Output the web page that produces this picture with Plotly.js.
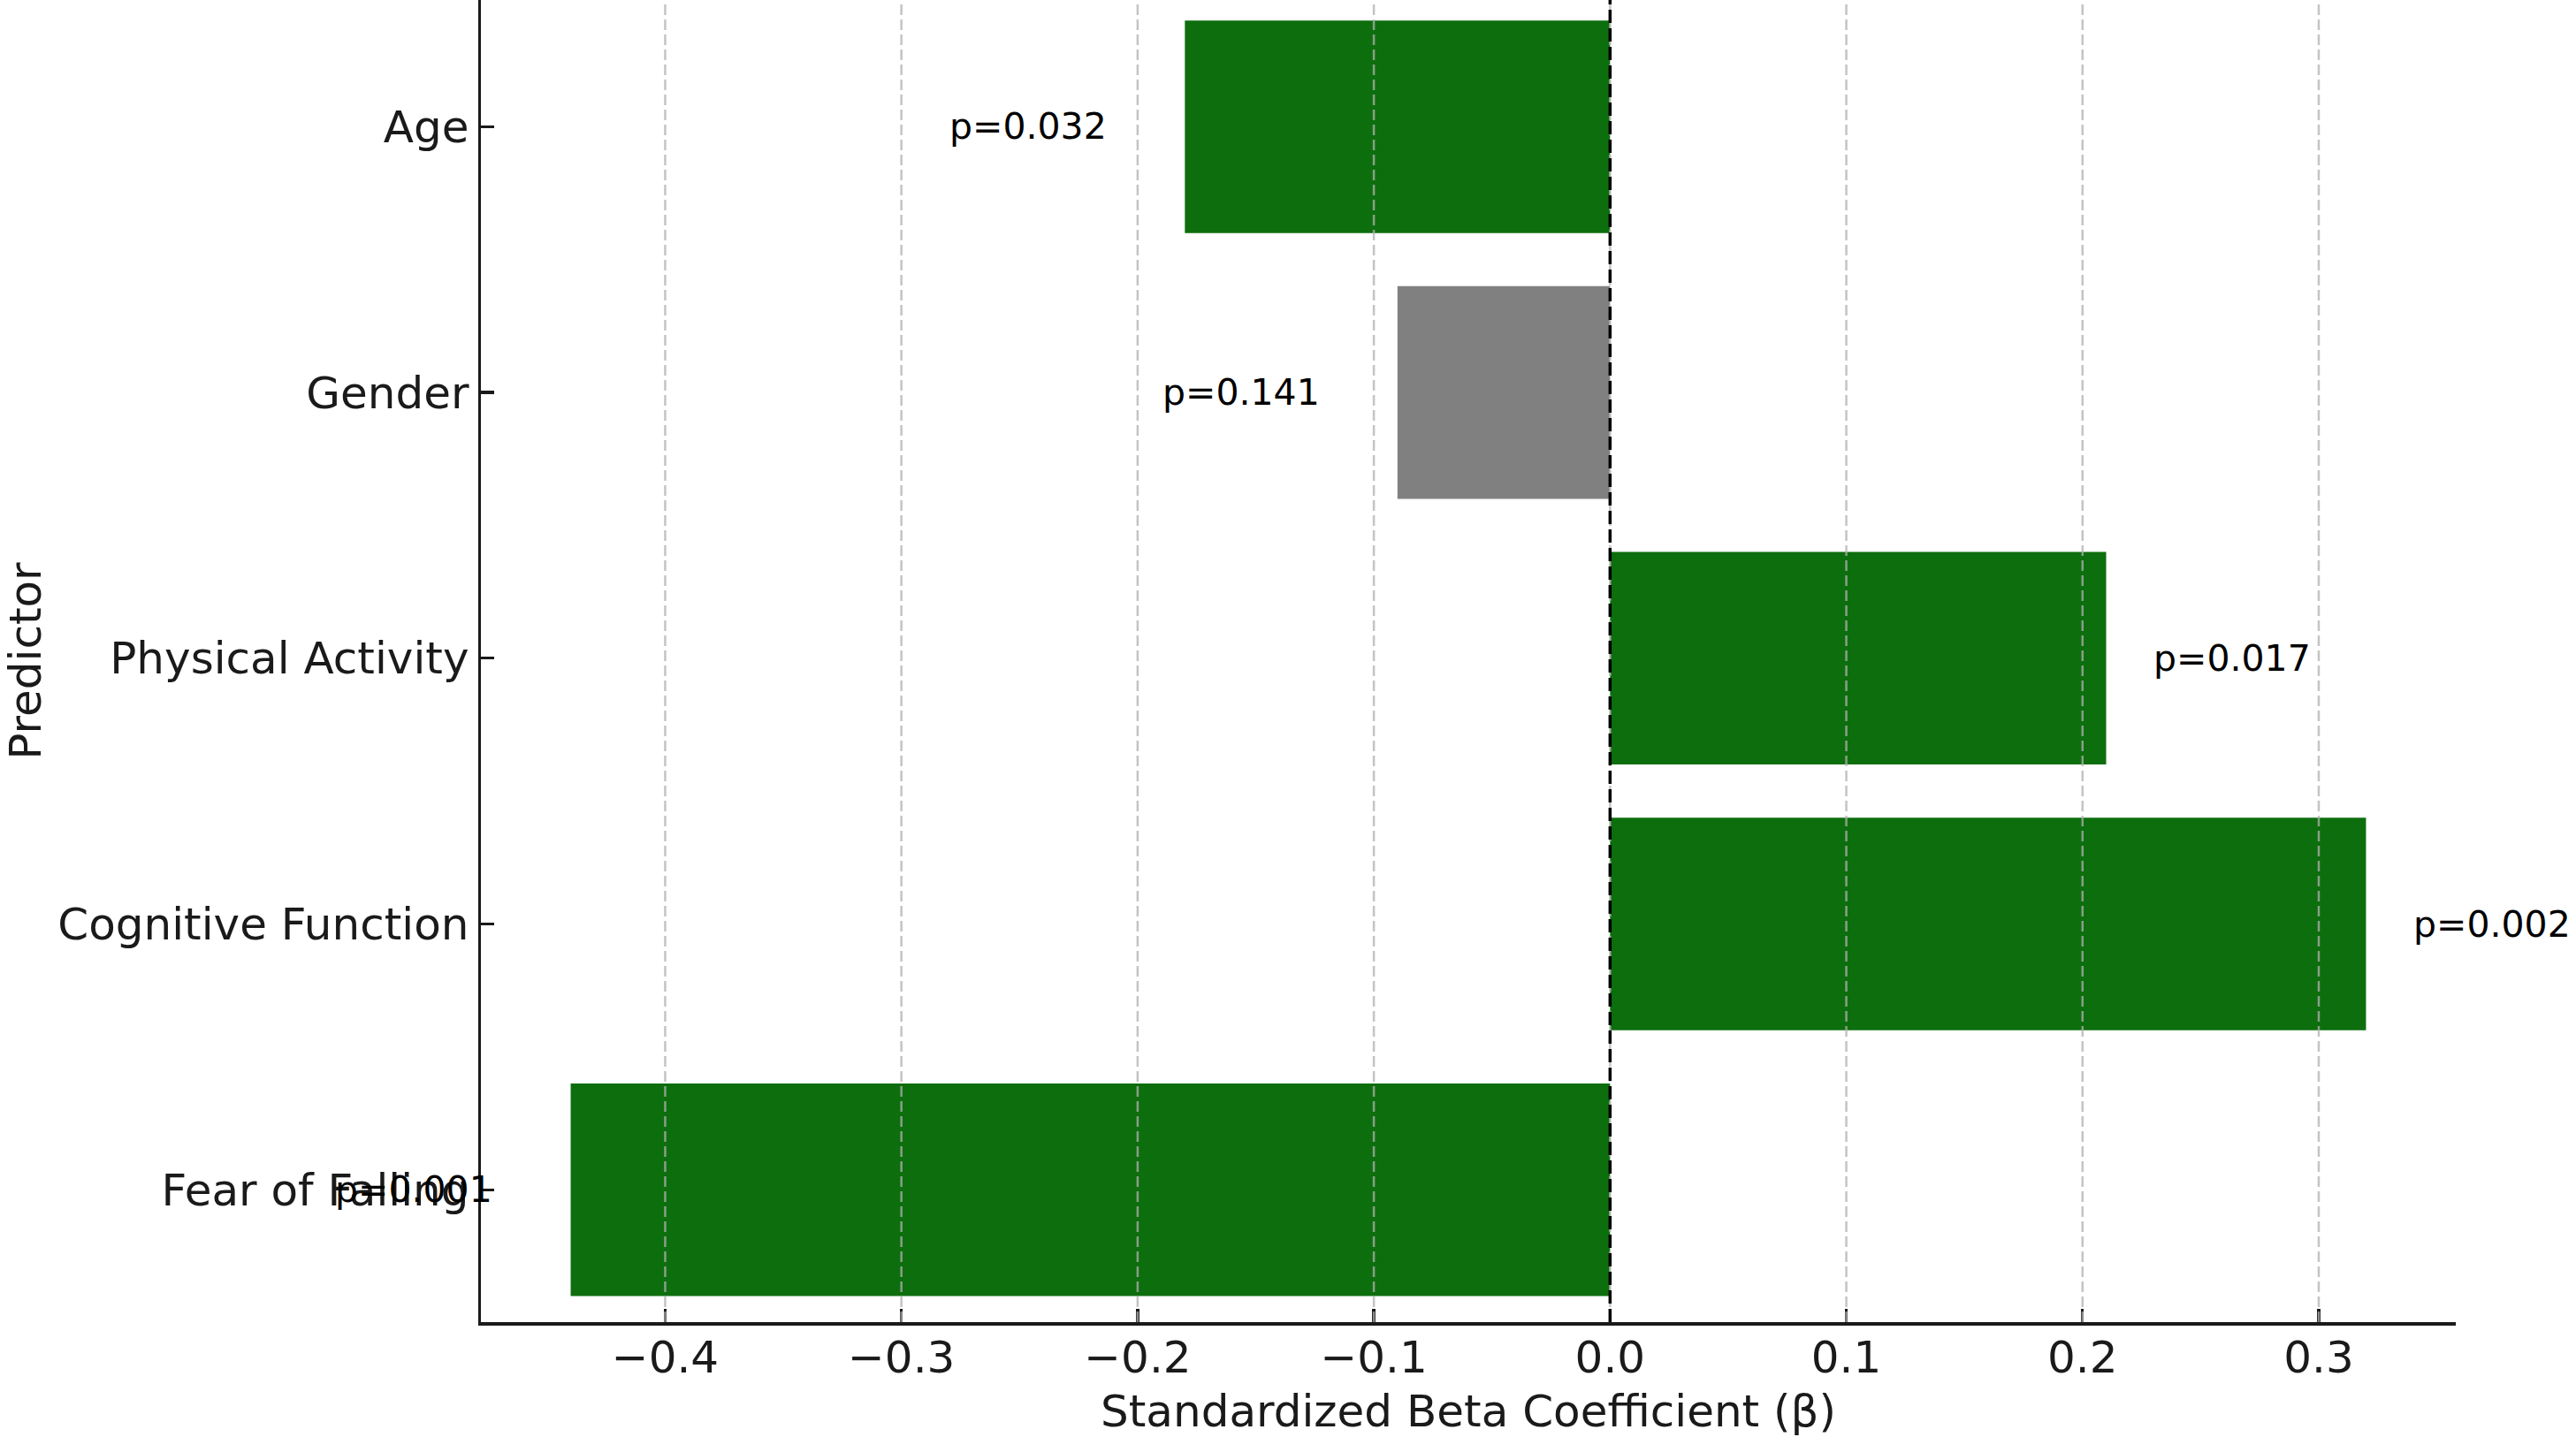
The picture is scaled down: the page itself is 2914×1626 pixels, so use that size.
<!DOCTYPE html>
<html>
<head>
<meta charset="utf-8">
<script src="https://cdn.plot.ly/plotly-3.0.1.min.js"></script>
<style>
  html, body { margin: 0; padding: 0; background: #ffffff; }
  #chart { width: 2914px; height: 1626px; }
</style>
</head>
<body>
<div id="chart"></div>
<script>
// ---- data ----
const predictors = ["Age", "Gender", "Physical Activity", "Cognitive Function", "Fear of Falling"];
const betas = [-0.18, -0.09, 0.21, 0.32, -0.44];
const pLabels = ["p=0.032", "p=0.141", "p=0.017", "p=0.002", "p=0.001"];
const pValues = [0.032, 0.141, 0.017, 0.002, 0.001];
const xTickVals = [-0.4, -0.3, -0.2, -0.1, 0.0, 0.1, 0.2, 0.3];

// ---- styling ----
const FONT = "DejaVu Sans, Liberation Sans, sans-serif";
const GREEN = "rgb(13,110,13)";
const GRAY = "#808080";
const barColors = pValues.map(p => (p < 0.05 ? GREEN : GRAY));

const trace = {
  type: "bar",
  orientation: "h",
  x: betas,
  y: predictors,
  width: 0.8,
  marker: { color: barColors, line: { width: 0 } },
  hoverinfo: "skip",
  showlegend: false
};

const annotations = betas.map((b, i) => ({
  x: b < 0 ? b - 0.03 : b + 0.02,
  y: predictors[i],
  xref: "x",
  yref: "y",
  text: pLabels[i],
  showarrow: false,
  borderpad: 0,
  borderwidth: 0,
  xshift: b < 0 ? -8 : 0,
  xanchor: b < 0 ? "right" : "left",
  yanchor: "middle",
  font: { family: FONT, size: 41, color: "#000000" }
}));

const gridShapes = xTickVals.map(v => ({
  type: "line",
  xref: "x",
  yref: "paper",
  x0: v, x1: v, y0: 0, y1: 1,
  layer: "above",
  line: { color: "rgba(176,176,176,0.75)", width: 2.5, dash: "12px,5px" }
}));

const zeroShape = {
  type: "line",
  xref: "x",
  yref: "paper",
  x0: 0, x1: 0, y0: 0, y1: 1,
  layer: "above",
  line: { color: "#000000", width: 3.5, dash: "15px,6px" }
};

const layout = {
  width: 2914,
  height: 1626,
  paper_bgcolor: "#ffffff",
  plot_bgcolor: "#ffffff",
  margin: { l: 544, r: 136, t: 0, b: 130, pad: 0 },
  font: { family: FONT, size: 50, color: "#1a1a1a" },
  showlegend: false,
  bargap: 0.2,
  xaxis: {
    range: [-0.478, 0.358],
    tickvals: xTickVals,
    tickformat: ".1f",
    ticks: "inside",
    ticklen: 15,
    tickwidth: 3.3,
    tickcolor: "#1a1a1a",
    showline: true,
    linecolor: "#1a1a1a",
    linewidth: 3.5,
    showgrid: false,
    zeroline: false,
    automargin: false,
    ticklabelstandoff: -7,
    tickfont: { family: FONT, size: 50, color: "#1a1a1a" },
    title: {
      text: "Standardized Beta Coefficient (β)",
      font: { family: FONT, size: 50, color: "#1a1a1a" },
      standoff: 18
    }
  },
  yaxis: {
    type: "category",
    categoryorder: "array",
    categoryarray: predictors,
    range: [4.498, -0.477],
    ticks: "inside",
    ticklen: 15,
    tickwidth: 3.3,
    tickcolor: "#1a1a1a",
    showline: true,
    linecolor: "#1a1a1a",
    linewidth: 3.5,
    showgrid: false,
    zeroline: false,
    automargin: false,
    ticklabelstandoff: 0,
    tickfont: { family: FONT, size: 50, color: "#1a1a1a" },
    title: {
      text: "Predictor",
      font: { family: FONT, size: 50, color: "#1a1a1a" },
      standoff: 12
    }
  },
  shapes: gridShapes.concat([zeroShape]),
  annotations: annotations
};

Plotly.newPlot("chart", [trace], layout, { staticPlot: true, displayModeBar: false });
</script>
</body>
</html>
